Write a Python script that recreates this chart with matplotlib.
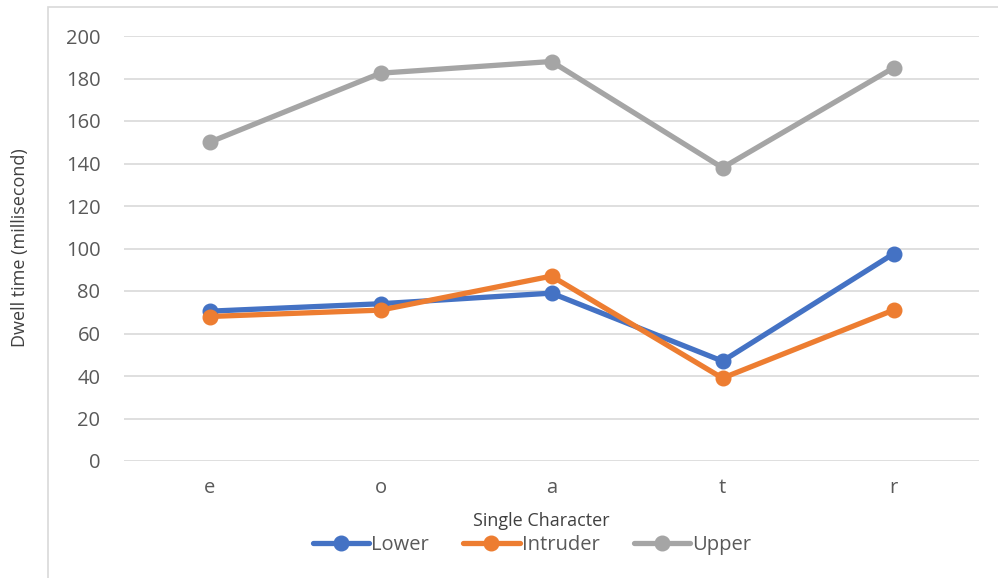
import matplotlib.pyplot as plt
from matplotlib.patches import Rectangle

characters = ['e', 'o', 'a', 't', 'r']
lower = [70.5, 74, 79, 47, 97.5]
intruder = [68, 71, 87, 39, 71]
upper = [150, 182.5, 188, 138, 185]

plt.rcParams['font.family'] = ['Open Sans', 'DejaVu Sans']

fig = plt.figure(figsize=(9.98, 5.78), dpi=100)
W, H = 998, 578
ax = fig.add_axes([124 / W, 1 - 461 / H, (979 - 124) / W, (461 - 36) / H])

# chart frame
fig.patches.append(Rectangle((48 / W, -0.1), 1.1, 1 - 7 / H + 0.1,
                             transform=fig.transFigure, fill=False,
                             edgecolor='#d9d9d9', lw=1.2))

x = range(len(characters))
series = [('Lower', lower, '#4472c4'),
          ('Intruder', intruder, '#ed7d31'),
          ('Upper', upper, '#a5a5a5')]
for name, vals, col in series:
    ax.plot(x, vals, color=col, lw=3.8, marker='o', markersize=10.5,
            solid_capstyle='round', label=name)

ax.set_xlim(-0.5, 4.5)
ax.set_ylim(0, 200)
ax.set_yticks(range(0, 201, 20))
ax.set_xticks(list(x))
ax.set_xticklabels(characters)
ax.grid(axis='y', color='#d9d9d9', lw=1.2)
ax.set_axisbelow(True)
for s in ax.spines.values():
    s.set_visible(False)
ax.tick_params(length=0, labelsize=14.5, colors='#595959', pad=17)
ax.tick_params(axis='x', pad=12)

fig.text(20 / W, 1 - 248 / H, 'Dwell time (millisecond)', rotation=90,
         ha='center', va='center', fontsize=13, color='#404040')
fig.text(541 / W, 1 - 521 / H, 'Single Character', ha='center', va='center',
         fontsize=13, color='#404040')

fig.legend(loc='center', bbox_to_anchor=(532 / W, 1 - 545 / H), ncol=3,
           frameon=False, fontsize=14.5, labelcolor='#595959',
           handlelength=2.8, handletextpad=0.1, columnspacing=1.7)

fig.savefig('out.png', dpi=100)
